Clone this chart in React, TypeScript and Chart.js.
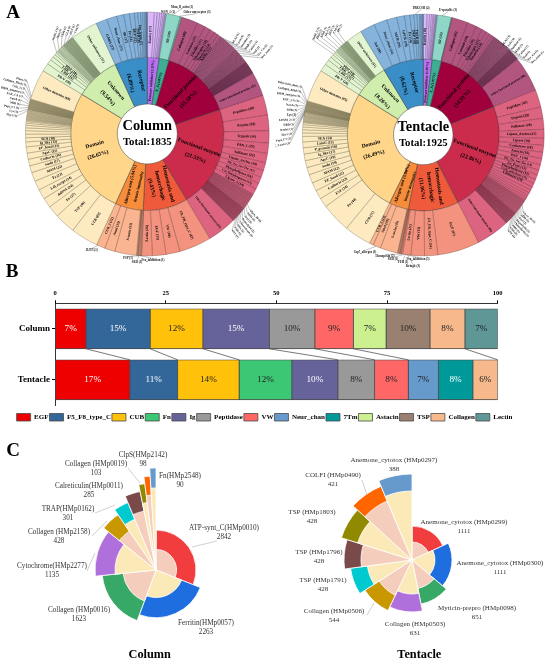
import { useEffect, useRef } from 'react';
import { Chart, registerables } from 'chart.js';

Chart.register(...registerables);

const SERIF = '"Liberation Serif", "Times New Roman", serif';

/* ---------- Panel A data ---------- */
const groupColorsInner = ['#b871f0', '#3dad96', '#a0003c', '#cc2c4c', '#ef5a3a', '#f78c3a', '#ffd68a', '#cfedac', '#3a8ec8'];
const groupColorsOuter = ['#dcb8fb', '#8ed6c6', '#b2557f', '#dc6480', '#f3937f', '#fbb490', '#fdeac0', '#e2f4d0', '#86b3dc'];
const groupLineColors = ['#5a4470', '#2f5f55', '#4e1f3a', '#6a2438', '#6a3a30', '#6a4430', '#6e6848', '#5a6a48', '#34526e'];

const columnInnerLabels = [
  ['Protease inhibitor (2.51%)'], ['E_S (2.07%)'], ['Functional protein', '(15.18%)'], ['Functional enzyme', '(21.53%)'],
  ['Hemostasis and', 'hemorrhagic', '(9.43%)'], ['Allergen and (5.94%)', 'innate immunity'], ['Domain', '(26.65%)'],
  ['Unknown', '(9.54%)'], ['Receptor', '(6.89%)'],
];
const columnOuterValues = [
  [17, 7, 6, 5, 4, 3, 2, 2],
  [34, 2, 2],
  [40, 20, 15, 12, 10, 8, 3, 3, 3, 3, 3, 3, 3, 3, 3, 3, 3, 3, 3, 3, 3, 2, 2, 2, 2, 2, 2, 2, 2, 2, 2, 2, 2, 2, 2, 2, 2, 2, 2, 2, 2, 1, 1, 1, 1, 1, 1, 1, 1, 1, 1, 1, 1, 1, 1, 1, 1, 1, 1, 1, 1, 1, 1, 1, 1, 1, 1, 1, 1, 1, 1, 1, 1, 58],
  [48, 38, 30, 25, 23, 19, 17, 16, 15, 14, 2, 2, 2, 2, 2, 2, 2, 2, 2, 2, 2, 2, 2, 2, 2, 2, 2, 2, 2, 2, 1, 1, 1, 1, 1, 1, 1, 1, 1, 1, 1, 1, 1, 1, 1, 1, 1, 1, 1, 1, 1, 1, 1, 1, 1, 1, 1, 1, 1, 1, 1, 1, 1, 1, 1, 1, 1, 1, 1, 71],
  [78, 34, 33, 26, 2],
  [2, 2, 2, 1, 1, 2, 53, 25, 21],
  [67, 51, 28, 24, 24, 23, 22, 17, 16, 15, 15, 12, 10, 9, 8, 7, 6, 5, 4, 3, 2, 2, 2, 2, 2, 2, 2, 2, 2, 2, 2, 2, 2, 1, 1, 1, 1, 1, 1, 1, 1, 1, 1, 1, 1, 1, 1, 1, 1, 1, 1, 1, 1, 1, 1, 1, 1, 1, 1, 74],
  [20, 12, 9, 7, 5, 4, 2, 2, 2, 2, 2, 2, 2, 2, 2, 2, 1, 1, 1, 1, 1, 1, 1, 1, 1, 1, 1, 1, 1, 1, 1, 1, 1, 1, 1, 1, 1, 1, 1, 1, 1, 1, 1, 1, 1, 1, 66],
  [27, 25, 17, 14, 12, 8, 7, 5, 4, 3, 2, 1, 1],
];
const columnOuterLabels = [
  ['Kunitz (17)'],
  ['SR (34)'],
  ['Collagen (48)', 'Laminin (27)', 'Fibrillin (22)', 'Fibrinogen (18)', 'Tenascin (14)', 'Kielin (12)', 'Other functional proteins (57)'],
  ['Peptidase (48)', 'Astacin (38)', 'Trypsin (30)', 'PAN_1 (25)', 'Sulfatase (23)', 'Lipase_Arylsu (19)', 'PK_Tyr_Ser-Thr (17)', 'Phospholipase (16)', 'Cat_Dehydrogenase (15)', 'Lipase_3 (14)', 'Other functional enzymes (69)'],
  ['FA_FR_type_C (47)', 'VW (40)', 'EGF (33)', 'Lectin (26)'],
  [, , , , , , 'S-toxin (53)', 'Amel (25)', 'CUB_2 (21)'],
  ['CUB (69)', 'TSP (46)', 'Fn (27)', 'dsDNA (24)', 'Ldl_recept (24)', 'Fz (23)', 'MAM (22)', 'Sushi (17)', 'Cadherin (16)', 'AgeC (15)', 'EF_hand (15)', 'Ig_like (12)', 'SEA (10)', 'Other domains (68)'],
  ['PR-V (26)', 'LRR (16)', 'LRR_5 (12)', 'PDZ (10)', 'Other unknown (57)'],
  ['GABA (27)', 'Neur_chan (25)', 'SR (17)', 'Fz (14)', 'DEP (12)', 'TNFR (8)', 'Ion_trans (7)'],
];
const columnCallouts = [
  { names: ['Pfam (1)', 'Collagen_Bind (1)', 'Cub_2 (1)', 'HBM_integrin (1)', 'EGF_CA (1)', 'Notch (1)', 'MIB (1)', 'Pept_C1 (1)', 'Lys (1)', 'Thy1 (1)'], from: [288, 281], start: [27, 81], end: [17, 116], rot: [15, 8], align: 'right' },
  { names: ['Sushi_2 (1)', 'Hint (1)', 'Xlink (1)', 'GLA (1)', 'DUF (1)', 'C1q (1)'], from: [312, 320], start: [53, 40], end: [75, 33], rot: [-70, -70], align: 'left' },
  { names: ['PLA2 (1)', 'Cyclo (1)', 'Amidase (1)', 'HAD (1)', 'Cation (1)', 'Sod (1)', 'Tyr_Cu (1)', 'Pro_isom (1)'], from: [38, 50], start: [233, 43], end: [262, 58], rot: [-60, -50], align: 'left' },
  { names: ['Glyco_18 (1)', 'ADH (1)', 'Acyl (1)', 'Reprolysin (1)', 'Thioredoxin (1)', 'Aldo (1)', 'FAD (1)', 'GST (1)'], from: [125, 133], start: [250, 210], end: [232, 230], rot: [48, 52], align: 'left' },
  { names: ['Mem_B_actin (1)'], from: [12, 12], start: [182, 7], rot: [0, 0], align: 'center' },
  { names: ['WSN_1 (1)'], from: [10, 10], start: [168, 12], rot: [0, 0], align: 'center' },
  { names: ['Other unreceptor (3)'], from: [15, 15], start: [197, 12], rot: [0, 0], align: 'center' },
  { names: ['BAT3 (1)'], from: [204, 204], start: [92, 250], rot: [0, 0], align: 'center' },
  { names: ['PSP (1)'], from: [183, 183], start: [128, 258], rot: [0, 0], align: 'center' },
  { names: ['Fva_inhibition (1)'], from: [183.5, 183.5], start: [153, 260], rot: [0, 0], align: 'center' },
  { names: ['SRO (1)'], from: [184, 184], start: [137, 262], rot: [0, 0], align: 'center' },
];

const tentacleInnerLabels = [
  ['Protease inhibitor (1.87%)'], ['E_S (1.97%)'], ['Functional protein', '(14.91%)'], ['Functional enzyme', '(22.86%)'],
  ['Hemostasis and', 'hemorrhagic', '(11.06%)'], ['Allergen and (3.90%)', 'innate immunity'], ['Domain', '(26.49%)'],
  ['Unknown', '(8.26%)'], ['Receptor', '(8.62%)'],
];
const tentacleOuterValues = [
  [10, 6, 5, 4, 3, 3, 2, 2, 1],
  [36, 1, 1],
  [42, 24, 16, 12, 10, 8, 6, 2, 2, 2, 2, 2, 2, 2, 2, 2, 2, 2, 2, 2, 2, 2, 2, 2, 2, 2, 2, 2, 2, 2, 2, 2, 1, 1, 1, 1, 1, 1, 1, 1, 1, 1, 1, 1, 1, 1, 1, 1, 1, 1, 1, 1, 1, 1, 1, 1, 1, 1, 1, 1, 1, 1, 1, 91],
  [45, 29, 28, 23, 18, 18, 16, 16, 14, 13, 12, 11, 10, 9, 8, 7, 6, 5, 4, 2, 2, 2, 2, 2, 2, 2, 2, 2, 2, 2, 2, 2, 2, 2, 2, 2, 2, 2, 2, 1, 1, 1, 1, 1, 1, 1, 1, 1, 1, 1, 1, 1, 1, 1, 1, 1, 1, 1, 1, 1, 1, 1, 1, 1, 1, 1, 1, 1, 1, 1, 1, 1, 1, 86],
  [108, 34, 35, 21, 3, 2, 2, 1],
  [2, 2, 1, 45, 20, 10],
  [70, 76, 24, 23, 22, 22, 19, 18, 17, 16, 15, 14, 9, 8, 7, 6, 5, 2, 2, 2, 2, 2, 2, 2, 2, 2, 2, 2, 2, 2, 1, 1, 1, 1, 1, 1, 1, 1, 1, 1, 1, 1, 1, 1, 1, 1, 1, 1, 1, 1, 1, 1, 1, 1, 1, 1, 1, 1, 1, 1, 84],
  [20, 13, 10, 8, 6, 5, 2, 2, 2, 2, 2, 2, 2, 2, 1, 1, 1, 1, 1, 1, 1, 1, 1, 1, 1, 1, 1, 1, 1, 1, 1, 1, 1, 1, 1, 1, 1, 42],
  [38, 34, 26, 20, 14, 10, 8, 6, 4, 3, 2, 1],
];
const tentacleOuterLabels = [
  ['Kunitz (10)'],
  ['SR (33)'],
  ['Collagen (42)', 'Laminin (24)', 'Fibrillin (16)', 'Fibrinogen (12)', 'Tenascin (10)', 'Other functional proteins (90)'],
  ['Peptidase (45)', 'Trypsin (29)', 'Sulfatase (28)', 'Lipase_Arylsu (23)', 'Lipase (18)', 'Carbonase (18)', 'Astacin (16)', 'PAN_1 (16)', 'PK_Tyr_Ser-Thr (14)', 'Zn_Pept (13)', 'Phospholipase (12)', 'Carb_anhydrase (11)', 'Chitinase (10)', 'Other functional enzymes (86)'],
  ['EGF (87)', 'FA_FR_type_C (34)', 'VW (35)', 'Lectin (21)'],
  [, , , 'S-toxin (45)', 'Amel (20)', 'CUB_2 (10)'],
  ['CUB (71)', 'Fn (44)', 'EVF (24)', 'Cadherin (23)', 'EF_hand (22)', 'MAM (22)', 'Sushi (19)', 'AgeC (18)', 'Ig_like (17)', 'P_granule (16)', 'LamG (15)', 'SEA (14)', 'Other domains (95)'],
  ['PR-V (26)', 'LRR (17)', 'LRR_5 (13)', 'PDZ (10)', 'Other unknown (51)'],
  ['Sat (38)', 'Neur_chan (34)', 'MCR (26)', 'GPCR (20)', 'Fz (14)', 'DEP (10)', 'TNFR (8)'],
];
const tentacleCallouts = [
  { names: ['Polycystin_dom (1)', 'Collagen_Bind (1)', 'HBM_integrin (1)', 'EGF_CA (1)', 'Notch (1)', 'MIB (1)', 'Lys (1)', 'LPAM_2 (1)', 'DBD (1)', 'Reeler (1)', 'Thy1 (1)', 'Pept_C1 (1)', 'C_Lectin (1)'], from: [286, 280], start: [27, 87], end: [15, 143], rot: [12, -12], align: 'right' },
  { names: ['Sushi_2 (1)', 'Hint (1)', 'Xlink (1)', 'GLA (1)', 'DUF (1)', 'C1q (1)', 'PH (1)'], from: [312, 320], start: [38, 40], end: [63, 32], rot: [-65, -65], align: 'left' },
  { names: ['PLA2 (1)', 'Cyclo (1)', 'Amidase (1)', 'HAD (1)', 'Cation (1)', 'Sod (1)', 'Tyr_Cu (1)', 'Pro_isom (1)'], from: [38, 50], start: [228, 45], end: [257, 63], rot: [-55, -45], align: 'left' },
  { names: ['Glyco_18 (1)', 'ADH (1)', 'Acyl (1)', 'Reprolysin (1)', 'Thioredoxin (1)', 'Aldo (1)', 'FAD (1)', 'GST (1)'], from: [125, 133], start: [248, 212], end: [233, 230], rot: [42, 48], align: 'left' },
  { names: ['PRKCSH (4)'], from: [356, 356], start: [146, 8], rot: [0, 0], align: 'center' },
  { names: ['E-spotable (3)'], from: [9, 9], start: [173, 10], rot: [0, 0], align: 'center' },
  { names: ['Gsp7_allergen (3)'], from: [203, 203], start: [90, 252], rot: [0, 0], align: 'center' },
  { names: ['Hemopexin (2)'], from: [190, 190], start: [110, 256], rot: [0, 0], align: 'center' },
  { names: ['SRO (1)'], from: [189, 189], start: [118, 259], rot: [0, 0], align: 'center' },
  { names: ['Fva_inhibition (5)'], from: [188, 188], start: [143, 259], rot: [0, 0], align: 'center' },
  { names: ['FEH (1)'], from: [188.5, 188.5], start: [128, 262], rot: [0, 0], align: 'center' },
  { names: ['Kringle (3)'], from: [187.5, 187.5], start: [138, 266], rot: [0, 0], align: 'center' },
];

/* ---------- Panel B data ---------- */
const seriesNames = ['EGF', 'F5_F8_type_C', 'CUB', 'Fn', 'Ig', 'Peptidase', 'VW', 'Neur_chan', '7Tm', 'Astacin', 'TSP', 'Collagen', 'Lectin'];
const seriesColors = ['#ee0000', '#336699', '#ffc10a', '#3cc774', '#66639a', '#999999', '#ff6666', '#6699cc', '#009999', '#ccf08f', '#9a8070', '#f7b98c', '#5f9696'];
const samples = ['Column', 'Tentacle'];
const columnShares = [7.0, 14.5, 11.9, null, 15.0, 10.3, 8.7, null, null, 7.4, 9.9, 7.9, 7.4];
const tentacleShares = [16.9, 10.8, 13.9, 11.9, 10.4, 8.3, 7.6, 6.8, 7.8, null, null, 5.6, null];
const columnPercent = ['7%', '15%', '12%', '', '15%', '10%', '9%', '', '', '7%', '10%', '8%', '7%'];
const tentaclePercent = ['17%', '11%', '14%', '12%', '10%', '8%', '8%', '7%', '8%', '', '', '6%', ''];
const whiteTextSeries = ['EGF', 'F5_F8_type_C', 'Ig', '7Tm'];

/* ---------- Panel C data ---------- */
const roseColors = ['#f23d3f', '#1f6ee0', '#37a866', '#b070dc', '#c99700', '#00c9d0', '#7a4a4a', '#8f8a00', '#ff6600', '#6699cc'];
const roseInnerColors = ['#f5cdbc', '#fbeab8', '#f5cdbc', '#fbeab8', '#f5cdbc', '#fbeab8', '#f5cdbc', '#fbeab8', '#f5cdbc', '#fbeab8'];
const columnProteins = ['ATP-synt_C(HMp0010)', 'Ferritin(HMp0057)', 'Collagen (HMp0016)', 'Cytochrome(HMp2277)', 'Collagen (HMp2158)', 'TRAP(HMp0162)', 'Calreticulin(HMp0011)', 'Collagen (HMp0019)', 'ClpS(HMp2142)', 'Fn(HMp2548)'];
const columnCounts = [2842, 2263, 1623, 1135, 428, 301, 285, 103, 98, 90];
const columnRoseOuter = [40, 47.7, 54, 61, 67, 73, 80, 87, 94, 102];
const columnRoseInner = [20.5, 27.5, 33, 41, 47, 55, 60, 68, 75, 82];
const tentacleProteins = ['Anemone_cytotox (HMp0299)', 'Anemone_cytotox (HMp0300)', 'Myticin-prepro (HMp0098)', 'Collagen (HMp0503)', 'Collagen (HMp0506)', 'TSP (HMp1791)', 'TSP (HMp1796)', 'TSP (HMp1803)', 'COLFI (HMp0490)', 'Anemone_cytotox (HMp0297)'];
const tentacleCounts = [1111, 1111, 651, 631, 544, 428, 428, 428, 421, 388];
const tentacleRoseOuter = [34, 40, 45, 52, 56, 62, 68, 74, 80, 86];
const tentacleRoseInner = [18, 23, 29, 34, 39, 45, 51, 57, 64, 69];

/* ---------- Layout of texts (panel pixels) ---------- */
const columnRoseLabelXY = [[224, 93], [206, 188], [79, 175], [52, 131], [59, 97], [68, 74], [89, 51], [96, 29], [143, 20], [180, 41]];
const columnRoseLeaders = [[[192, 112], [217, 106]], [[87, 136], [95, 118]], [[92, 101], [107, 86]], [[95, 78], [115, 70]], [[128, 33], [140, 48]]];
const tentacleRoseLabelXY = [[189, 87], [225, 128], [202, 173], [140, 189], [59, 176], [48, 145], [44, 117], [37, 77], [58, 40], [119, 25]];
const tentacleRoseLeaders = [[[87, 45], [92, 60]], [[92, 180], [99, 168]]];

type Note = { text: string; x: number; y: number; font: string; color?: string; align?: CanvasTextAlign };

function drawNotes(ctx: CanvasRenderingContext2D, notes: Note[]) {
  ctx.save();
  ctx.textBaseline = 'middle';
  for (const n of notes) {
    ctx.font = n.font;
    ctx.fillStyle = n.color ?? '#000';
    ctx.textAlign = n.align ?? 'center';
    ctx.fillText(n.text, n.x, n.y);
  }
  ctx.restore();
}

function sum(a: number[]) {
  return a.reduce((s, v) => s + v, 0);
}

function radialText(ctx: CanvasRenderingContext2D, arc: any, lines: string[], font: string, lineH: number) {
  const mid = (arc.startAngle + arc.endAngle) / 2;
  const rm = (arc.innerRadius + arc.outerRadius) / 2;
  ctx.save();
  ctx.translate(arc.x + Math.cos(mid) * rm, arc.y + Math.sin(mid) * rm);
  ctx.rotate(Math.cos(mid) >= 0 ? mid : mid + Math.PI);
  ctx.font = font;
  ctx.fillStyle = '#000';
  ctx.textAlign = 'center';
  ctx.textBaseline = 'middle';
  lines.forEach((l, i) => ctx.fillText(l, 0, (i - (lines.length - 1) / 2) * lineH));
  ctx.restore();
}

function drawCallouts(ctx: CanvasRenderingContext2D, cx: number, cy: number, R: number, clusters: any[]) {
  ctx.save();
  ctx.strokeStyle = '#333';
  ctx.lineWidth = 0.3;
  ctx.fillStyle = '#111';
  ctx.font = `bold 3px ${SERIF}`;
  ctx.textBaseline = 'middle';
  for (const c of clusters) {
    c.names.forEach((name: string, i: number) => {
      const t = c.names.length > 1 ? i / (c.names.length - 1) : 0;
      const deg = c.from[0] + (c.from[1] - c.from[0]) * t;
      const a = (deg * Math.PI) / 180;
      const px = cx + R * Math.sin(a);
      const py = cy - R * Math.cos(a);
      const end = c.end ?? c.start;
      const tx = c.start[0] + (end[0] - c.start[0]) * t;
      const ty = c.start[1] + (end[1] - c.start[1]) * t;
      ctx.beginPath();
      ctx.moveTo(px, py);
      ctx.lineTo(tx, ty + (c.align === 'center' ? (ty < cy ? 1.5 : -1.5) : 0));
      ctx.stroke();
      ctx.save();
      ctx.translate(tx, ty);
      ctx.rotate(((c.rot[0] + (c.rot[1] - c.rot[0]) * t) * Math.PI) / 180);
      ctx.textAlign = c.align;
      ctx.fillText(name, 0, 0);
      ctx.restore();
    });
  }
  ctx.restore();
}

function sunburstConfig(title: string, total: string, innerLabels: string[][], outerValues: number[][], outerLabels: any[][], callouts: any[], pad: any, notes: Note[]) {
  const flatValues = outerValues.flat();
  const outerColors = outerValues.flatMap((g, i) => g.map(() => groupColorsOuter[i]));
  const outerLines = outerValues.flatMap((g, i) => g.map(() => groupLineColors[i]));
  const flatLabels: string[] = [];
  outerValues.forEach((g, i) => {
    const names = outerLabels[i];
    const lastName = names[names.length - 1];
    const hasOther = /^Other/.test(lastName);
    g.forEach((_, j) => {
      if (hasOther && j === g.length - 1) flatLabels.push(lastName);
      else if (j < names.length - (hasOther ? 1 : 0)) flatLabels.push(names[j] ?? '');
      else flatLabels.push('');
    });
  });
  return {
    type: 'doughnut',
    data: {
      labels: flatLabels,
      datasets: [
        { data: flatValues, backgroundColor: outerColors, borderColor: outerLines, borderWidth: 0.35, weight: 45.3 },
        { data: outerValues.map(sum), backgroundColor: groupColorsInner, borderColor: '#3a3a3a', borderWidth: 0.5, weight: 46.7 },
      ],
    },
    options: {
      responsive: false,
      animation: false,
      cutout: '24.6%',
      layout: { padding: pad },
      plugins: { legend: { display: false }, tooltip: { enabled: false } },
    },
    plugins: [
      {
        id: 'sunburstText',
        afterDraw(chart: any) {
          const ctx = chart.ctx;
          const outer = chart.getDatasetMeta(0).data;
          const inner = chart.getDatasetMeta(1).data;
          outer.forEach((arc: any, i: number) => {
            const t = flatLabels[i];
            if (t) radialText(ctx, arc, [t], `bold ${t.length > 18 ? 3.1 : 3.6}px ${SERIF}`, 4);
          });
          inner.forEach((arc: any, i: number) => {
            const lines = innerLabels[i];
            const small = lines.length === 1;
            const narrow = lines[1] === 'innate immunity';
            radialText(ctx, arc, lines, `bold ${small ? 3.6 : narrow ? 4.4 : 5.6}px ${SERIF}`, lines.length === 2 && !narrow ? 11 : 8.5);
          });
          const c = outer[0];
          drawCallouts(ctx, c.x, c.y, c.outerRadius, callouts);
          drawNotes(ctx, [
            { text: title, x: c.x, y: c.y - 8, font: `bold 14.4px ${SERIF}` },
            { text: total, x: c.x, y: c.y + 8, font: `bold 10.8px ${SERIF}` },
            ...notes,
          ]);
        },
      },
    ],
  };
}

function barConfig() {
  return {
    type: 'bar',
    data: {
      labels: samples,
      datasets: seriesNames.map((name, i) => ({
        label: name,
        data: [columnShares[i], tentacleShares[i]],
        backgroundColor: seriesColors[i],
        borderColor: '#4a4a4a',
        borderWidth: 0.8,
        borderSkipped: false,
        barThickness: 40,
      })),
    },
    options: {
      responsive: false,
      animation: false,
      indexAxis: 'y',
      layout: { padding: { bottom: 3 } },
      scales: {
        x: {
          position: 'top',
          stacked: true,
          min: 0,
          max: 100,
          ticks: { stepSize: 25, color: '#000', font: { family: SERIF, weight: 'bold', size: 6.5 }, padding: 3, maxRotation: 0 },
          grid: { drawOnChartArea: false, tickLength: 3, color: '#000' },
          border: { color: '#000', width: 0.8 },
          afterFit: (s: any) => { s.height = 43.3; },
        },
        y: {
          stacked: true,
          ticks: { color: '#000', font: { family: SERIF, weight: 'bold', size: 9 }, padding: 2 },
          grid: { drawOnChartArea: false, offset: false, tickLength: 3, color: '#000' },
          border: { color: '#000', width: 0.8 },
          afterFit: (s: any) => { s.width = 55; },
        },
        rightGap: {
          type: 'linear',
          position: 'right',
          grid: { display: false },
          border: { display: false },
          ticks: { display: false },
          afterFit: (s: any) => { s.width = 31.3; },
        },
      },
      plugins: {
        tooltip: { enabled: false },
        legend: {
          position: 'bottom',
          title: { display: true, text: '', padding: 3, font: { size: 1 } },
          labels: { boxWidth: 14, boxHeight: 7.5, padding: 1, color: '#000', font: { family: SERIF, weight: 'bold', size: 7 } },
        },
      },
    },
    plugins: [
      {
        id: 'barText',
        afterDatasetsDraw(chart: any) {
          const ctx = chart.ctx;
          ctx.save();
          ctx.strokeStyle = '#555';
          ctx.lineWidth = 0.8;
          chart.data.datasets.forEach((ds: any, i: number) => {
            const [a, b] = chart.getDatasetMeta(i).data;
            if (columnShares[i] != null && tentacleShares[i] != null) {
              ctx.beginPath();
              ctx.moveTo(a.x, a.y + a.height / 2);
              ctx.lineTo(b.x, b.y - b.height / 2);
              ctx.stroke();
            }
            ctx.font = `9.2px ${SERIF}`;
            ctx.textAlign = 'center';
            ctx.textBaseline = 'middle';
            ctx.fillStyle = whiteTextSeries.includes(ds.label) ? '#fff' : '#222';
            if (columnPercent[i]) ctx.fillText(columnPercent[i], (a.x + a.base) / 2, a.y);
            if (tentaclePercent[i]) {
              ctx.fillText(tentaclePercent[i], (b.x + b.base) / 2, b.y);
            }
          });
          ctx.restore();
          drawNotes(ctx, [{ text: 'B', x: 12, y: 12, font: `bold 19px ${SERIF}` }]);
        },
      },
    ],
  };
}

function roseConfig(names: string[], counts: number[], outer: number[], inner: number[], maxR: number, pad: any, labelXY: number[][], leaders: number[][][], title: string, titleXY: number[], extra: Note[], labelSize: number) {
  const total = sum(counts);
  const angle = counts.map((c) => (c / total) * 360);
  return {
    type: 'polarArea',
    data: {
      labels: names,
      datasets: [
        { data: inner, angle, backgroundColor: roseInnerColors, borderColor: '#fff', borderWidth: 0.8, clip: false },
        { data: outer, angle, backgroundColor: roseColors, borderColor: '#fff', borderWidth: 0.8, clip: false },
      ],
    },
    options: {
      responsive: false,
      animation: false,
      layout: { padding: pad },
      scales: { r: { display: false, min: 0, max: maxR, ticks: { display: false } } },
      plugins: { legend: { display: false }, tooltip: { enabled: false } },
    },
    plugins: [
      {
        id: 'roseText',
        afterDraw(chart: any) {
          const ctx = chart.ctx;
          ctx.save();
          ctx.strokeStyle = '#bbb';
          ctx.lineWidth = 0.7;
          leaders.forEach(([p, q]) => {
            ctx.beginPath();
            ctx.moveTo(p[0], p[1]);
            ctx.lineTo(q[0], q[1]);
            ctx.stroke();
          });
          ctx.restore();
          const notes: Note[] = [];
          names.forEach((n, i) => {
            const [x, y] = labelXY[i];
            notes.push({ text: n, x, y, font: `${labelSize}px ${SERIF}`, color: '#333' });
            notes.push({ text: String(counts[i]), x, y: y + 9, font: `${labelSize}px ${SERIF}`, color: '#333' });
          });
          notes.push({ text: title, x: titleXY[0], y: titleXY[1], font: `bold 12.3px ${SERIF}` }, ...extra);
          drawNotes(ctx, notes);
        },
      },
    ],
  };
}

function Panel({ left, top, width, height, make }: any) {
  const ref = useRef<HTMLCanvasElement>(null);
  useEffect(() => {
    const chart = new Chart(ref.current as any, make());
    return () => chart.destroy();
  }, []);
  return <canvas ref={ref} width={width} height={height} style={{ position: 'absolute', left, top, width, height }} />;
}

export default function App() {
  return (
    <div style={{ position: 'absolute', left: 0, top: 0, width: 550, height: 664, overflow: 'hidden', background: '#fff' }}>
      <Panel left={0} top={0} width={275} height={270} make={() =>
        sunburstConfig('Column', 'Total:1835', columnInnerLabels, columnOuterValues, columnOuterLabels, columnCallouts,
          { left: 25.3, right: 5.7, top: 12, bottom: 14 },
          [{ text: 'A', x: 13, y: 13, font: `bold 19px ${SERIF}` }])} />
      <Panel left={275} top={0} width={275} height={270} make={() =>
        sunburstConfig('Tentacle', 'Total:1925', tentacleInnerLabels, tentacleOuterValues, tentacleOuterLabels, tentacleCallouts,
          { left: 27.3, right: 5.7, top: 14, bottom: 14 }, [])} />
      <Panel left={0} top={260} width={529} height={174} make={barConfig} />
      <Panel left={0} top={435} width={275} height={320} make={() =>
        roseConfig(columnProteins, columnCounts, columnRoseOuter, columnRoseInner, 102,
          { left: 54, right: 17, top: 33, bottom: 83 }, columnRoseLabelXY, columnRoseLeaders, 'Column', [149.7, 220],
          [{ text: 'C', x: 13, y: 16, font: `bold 19px ${SERIF}` }], 7.2)} />
      <Panel left={275} top={435} width={275} height={320} make={() =>
        roseConfig(tentacleProteins, tentacleCounts, tentacleRoseOuter, tentacleRoseInner, 86,
          { left: 51.3, right: 51.7, top: 39.7, bottom: 108.3 }, tentacleRoseLabelXY, tentacleRoseLeaders, 'Tentacle', [144.3, 220], [], 7)} />
    </div>
  );
}
